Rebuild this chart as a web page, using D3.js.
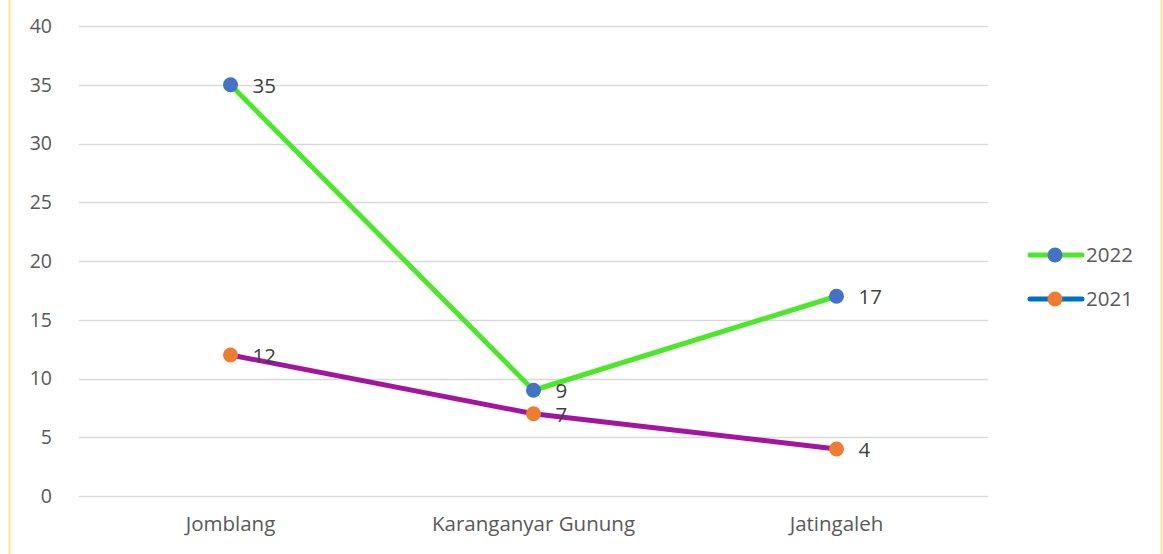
<!DOCTYPE html>
<html>
<head>
<meta charset="utf-8">
<script src="https://cdn.jsdelivr.net/npm/d3@7"></script>
<style>
  body { margin: 0; background: #fff; }
  text { font-family: "Open Sans", Lato, sans-serif; }
</style>
</head>
<body>
<script>
var svgWidth = 1163;
var svgHeight = 554;

// data
var categories = ["Jomblang", "Karanganyar Gunung", "Jatingaleh"];
var values2022 = [35, 9, 17];
var values2021 = [12, 7, 4];
var yTicks = [0, 5, 10, 15, 20, 25, 30, 35, 40];

var fontSize = 20.5;

var series = [
    { name: "2022", values: values2022, line: "#4ce62a", marker: "#4472c4", legendLine: "#4ce62a" },
    { name: "2021", values: values2021, line: "#a3159f", marker: "#ed7d31", legendLine: "#0070c0" }
];

var svg = d3.select("body").append("svg")
    .attr("width", svgWidth)
    .attr("height", svgHeight);

// yellow frame edges
svg.append("line").attr("x1", 9.5).attr("x2", 9.5).attr("y1", 0).attr("y2", svgHeight)
    .attr("stroke", "#fde38a").attr("stroke-width", 2);
svg.append("line").attr("x1", 1161.5).attr("x2", 1161.5).attr("y1", 0).attr("y2", svgHeight)
    .attr("stroke", "#fde38a").attr("stroke-width", 2);

var xScale = d3.scaleBand()
    .domain(categories)
    .range([79, 988]);

var yScale = d3.scaleLinear()
    .domain([0, 40])
    .range([496, 26]);

// gridlines
svg.append("g").selectAll("line")
    .data(yTicks)
    .enter()
    .append("line")
    .attr("x1", 79).attr("x2", 988)
    .attr("y1", d => Math.round(yScale(d)) + 0.5)
    .attr("y2", d => Math.round(yScale(d)) + 0.5)
    .attr("stroke", "#d9d9d9")
    .attr("stroke-width", 1.3);

// y axis labels
var yAxis = d3.axisLeft(yScale).tickValues(yTicks).tickSize(0).tickPadding(0);
var yg = svg.append("g").attr("transform", "translate(52,0)").call(yAxis);
yg.select(".domain").remove();
yg.selectAll("text").attr("font-size", fontSize - 1).attr("fill", "#595959")
    .style("font-family", "'Open Sans', Lato, sans-serif");

// x axis labels
var xAxis = d3.axisBottom(xScale).tickSize(0).tickPadding(0);
var xg = svg.append("g").attr("transform", "translate(0,516)").call(xAxis);
xg.select(".domain").remove();
xg.selectAll("text").attr("font-size", fontSize).attr("fill", "#595959")
    .style("font-family", "'Open Sans', Lato, sans-serif");

var cx = d => xScale(d) + xScale.bandwidth() / 2;

var line = d3.line()
    .x((d, i) => cx(categories[i]))
    .y(d => yScale(d));

// draw 2021 first, then 2022 on top
[series[1], series[0]].forEach(s => {
    svg.append("path")
        .datum(s.values)
        .attr("d", line)
        .attr("fill", "none")
        .attr("stroke", s.line)
        .attr("stroke-width", 5)
        .attr("stroke-linejoin", "round")
        .attr("stroke-linecap", "round");
});

series.forEach(s => {
    svg.append("g").selectAll("circle")
        .data(s.values)
        .enter()
        .append("circle")
        .attr("cx", (d, i) => cx(categories[i]))
        .attr("cy", d => yScale(d))
        .attr("r", 7.5)
        .attr("fill", s.marker);

    svg.append("g").selectAll("text")
        .data(s.values)
        .enter()
        .append("text")
        .attr("x", (d, i) => cx(categories[i]) + 22)
        .attr("y", d => yScale(d) + 8)
        .attr("font-size", fontSize)
        .attr("fill", "#404040")
        .text(d => d);
});

// legend
var legend = svg.append("g").selectAll("g")
    .data(series)
    .enter()
    .append("g")
    .attr("transform", (d, i) => `translate(1028, ${255 + i * 44})`);

legend.append("line")
    .attr("x1", 2).attr("x2", 54)
    .attr("stroke", d => d.legendLine)
    .attr("stroke-width", 5)
    .attr("stroke-linecap", "round");
legend.append("circle")
    .attr("cx", 27)
    .attr("r", 7.5)
    .attr("fill", d => d.marker);
legend.append("text")
    .attr("x", 58)
    .attr("y", 7)
    .attr("font-size", fontSize)
    .attr("fill", "#595959")
    .text(d => d.name);
</script>
</body>
</html>
